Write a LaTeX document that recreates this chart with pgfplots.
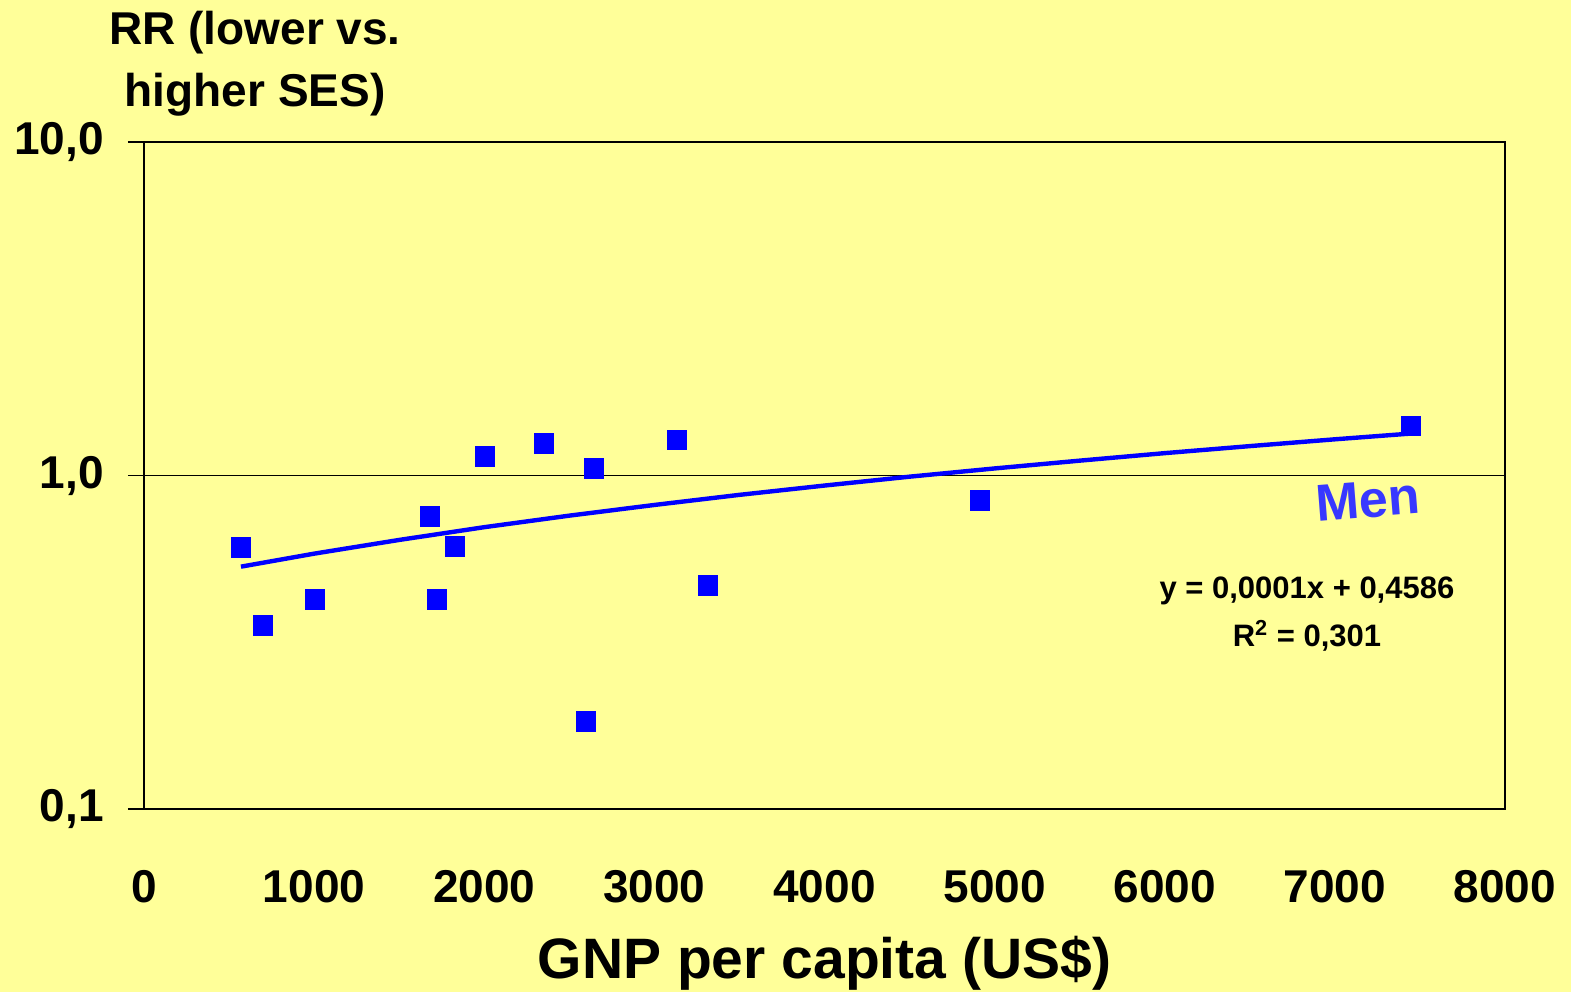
\documentclass[border=0pt]{standalone}
\usepackage{pgfplots}
\pgfplotsset{compat=1.18}
\usepackage{fontspec}
\setmainfont{Liberation Sans}
\definecolor{bgyellow}{HTML}{FFFF99}
\definecolor{menblue}{HTML}{3838FF}
\begin{document}
\begin{tikzpicture}
\path[use as bounding box, fill=bgyellow] (-72pt,-91.5pt) rectangle (713.5pt,404.5pt);
\begin{axis}[
  at={(0,0)}, anchor=south west,
  scale only axis, width=680.5pt, height=333.5pt,
  xmin=0, xmax=8000, ymin=0.1, ymax=10,
  ymode=log,
  axis line style={line width=1pt, black},
  xtick={0,1000,2000,3000,4000,5000,6000,7000,8000},
  xticklabels={0,1000,2000,3000,4000,5000,6000,7000,8000},
  ytick={0.1,1,10},
  yticklabels={{0,1},{1,0},{10,0}},
  ytick pos=left,
  yminorticks=false, xminorticks=false,
  x tick style={draw=none},
  y tick style={black, line width=0.75pt},
  tick align=outside, major tick length=8pt,
  ymajorgrids, major grid style={black, line width=0.75pt},
  xticklabel style={font=\bfseries\fontsize{23}{23}\selectfont, inner sep=0pt, anchor=north, yshift=-22.5pt},
  yticklabel style={font=\bfseries\fontsize{23}{23}\selectfont, inner sep=0pt, anchor=east, xshift=-12pt},
  /pgf/number format/assume math mode=true,
  xlabel={GNP per capita (US\$)},
  xlabel style={font=\bfseries\fontsize{28.5}{30}\selectfont, at={(axis description cs:0.5,-0.2534)}, anchor=base},
  ylabel={RR (lower vs.\\higher SES)},
  ylabel style={font=\bfseries\fontsize{23}{31}\selectfont, rotate=-90, align=center, at={(axis description cs:0.0816,1.117)}, anchor=center},
  clip=false,
]
\addplot[only marks, mark=square*, mark size=4.9pt, mark options={fill=blue, draw=blue}] coordinates {
  (570,0.608) (700,0.355) (1005,0.425) (1681,0.753) (1722,0.425)
  (1828,0.612) (2004,1.14) (2351,1.25) (2598,0.183) (2645,1.05)
  (3133,1.28) (3315,0.468) (4914,0.842) (7447,1.41)
};
\addplot[blue, line width=2.2pt, no marks] coordinates {
  (570,0.533) (1000,0.583) (1500,0.641) (2000,0.700) (2500,0.758)
  (3000,0.816) (3500,0.875) (4000,0.933) (4500,0.992) (5000,1.050)
  (5500,1.108) (6000,1.167) (6500,1.225) (7000,1.284) (7447,1.336)
};
\node[font=\bfseries\fontsize{15.5}{24}\selectfont, align=center, anchor=center] at (axis description cs:0.8545,0.2924) {y = 0,0001x + 0,4586\\R\textsuperscript{2} = 0,301};
\node[font=\bfseries\fontsize{26}{26}\selectfont, text=menblue, rotate=4.5, anchor=center] at (axis description cs:0.8993,0.4633) {Men};
\end{axis}
\end{tikzpicture}
\end{document}
